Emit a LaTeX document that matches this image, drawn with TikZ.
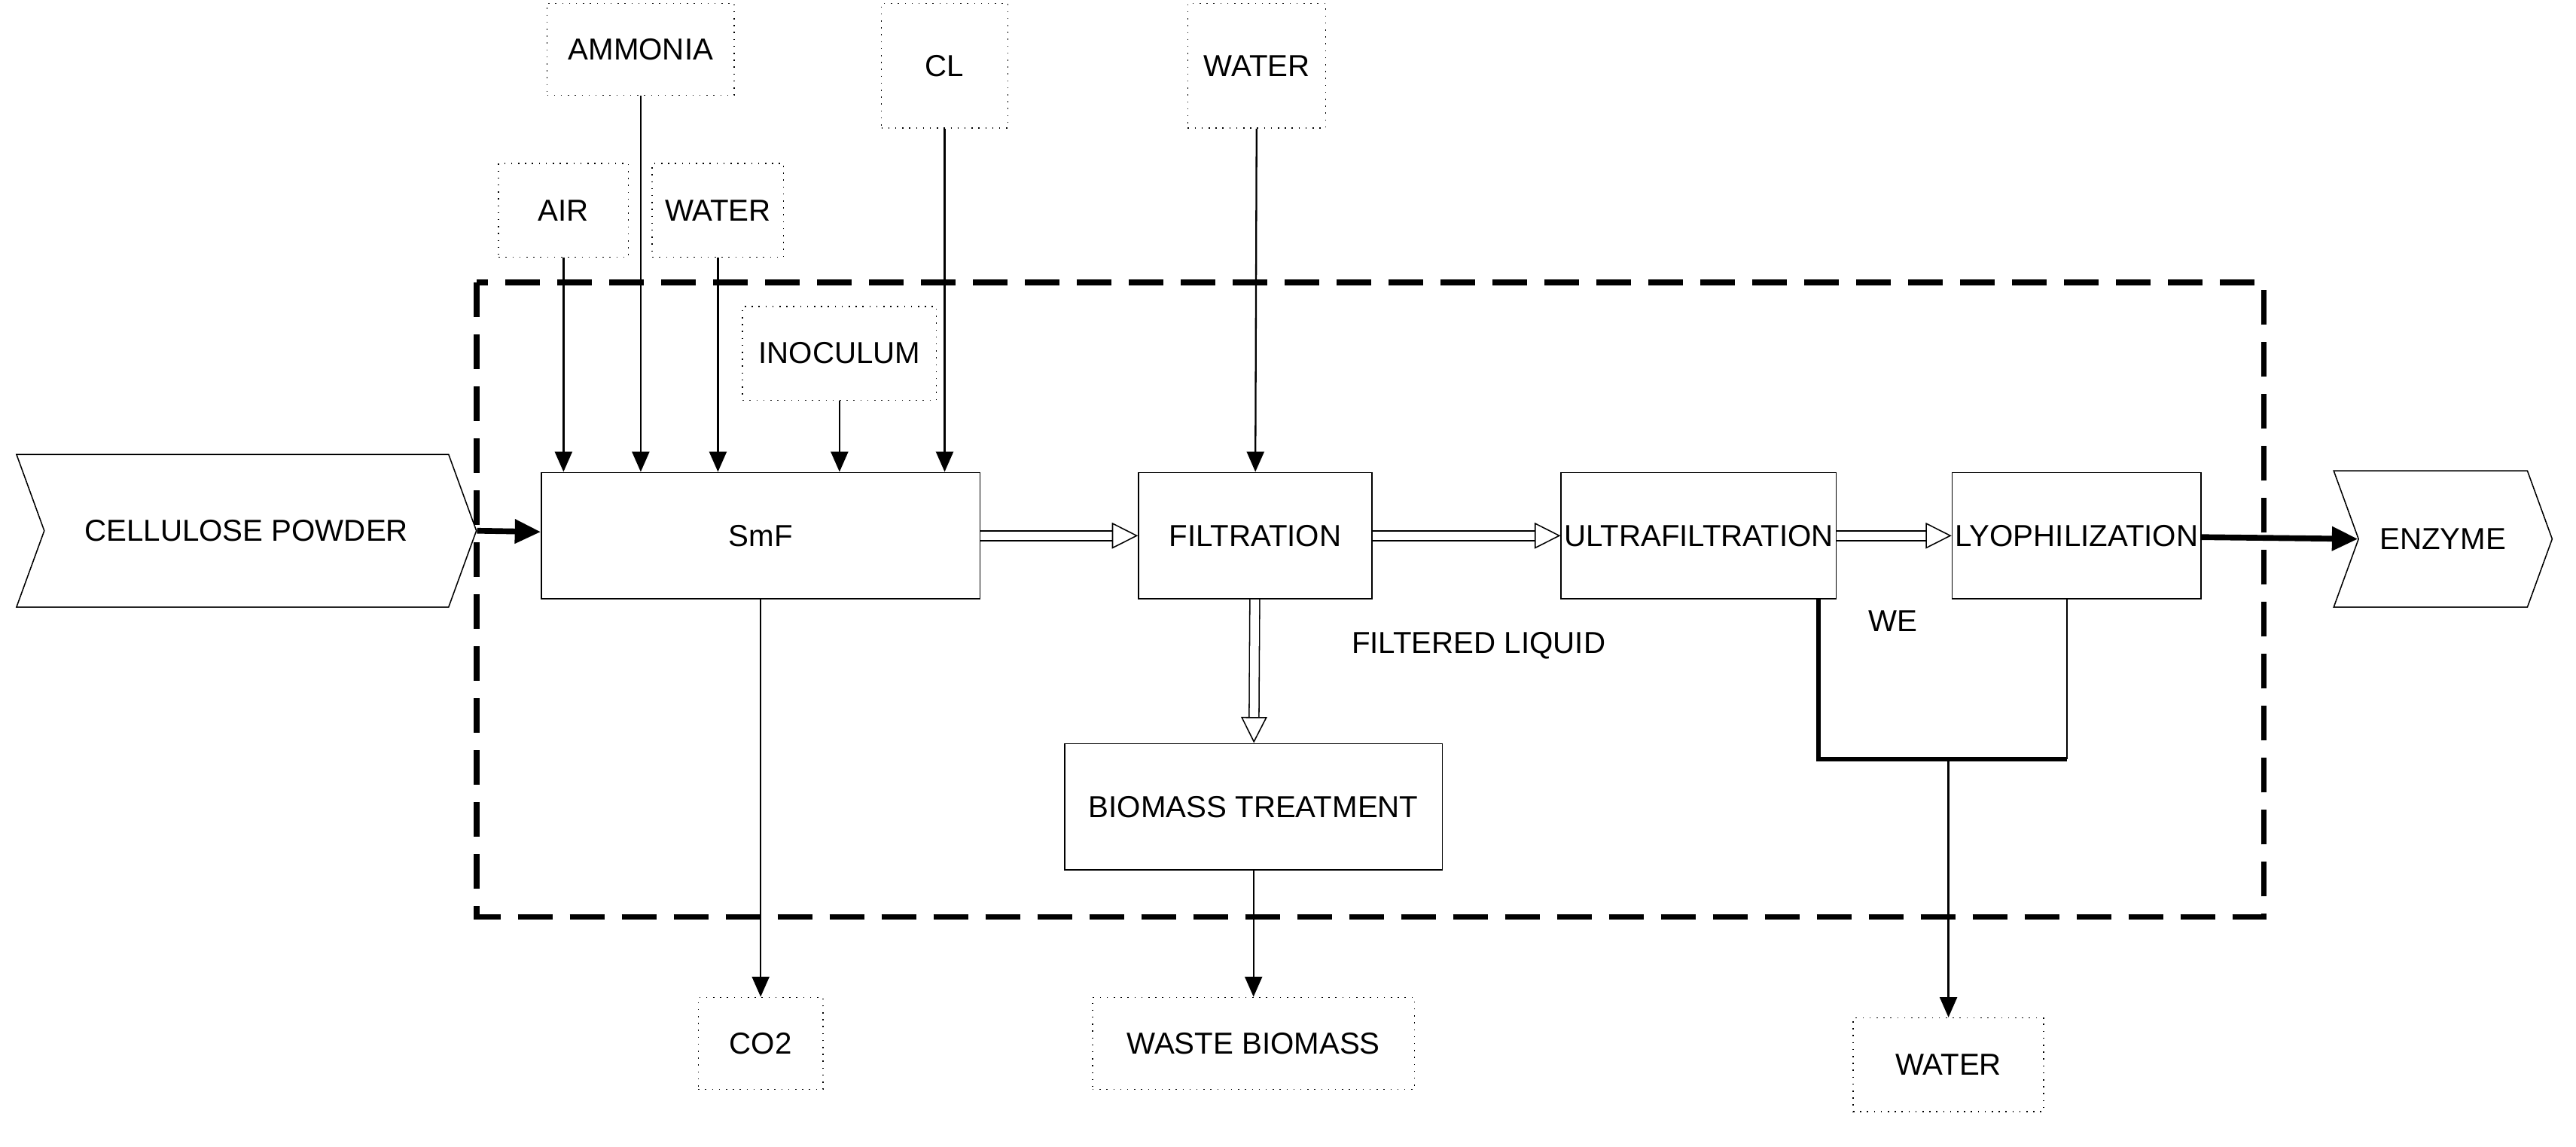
\documentclass[tikz,border=0pt]{standalone}
\usepackage{fontspec}
\setmainfont{Liberation Sans}
\usetikzlibrary{arrows.meta,shapes.symbols}
\tikzset{
  unit/.style={draw,rectangle,inner sep=1pt,font=\fontsize{10.5}{12}\selectfont},
  stream/.style={draw,dotted,rectangle,inner sep=1pt,font=\fontsize{10.5}{12}\selectfont},
  flag/.style={draw,signal,signal from=west,signal to=east,signal pointer angle=140,
    inner sep=1pt,font=\fontsize{10.5}{12}\selectfont},
  feed/.style={semithick,-{Triangle[length=7pt,width=6pt]}},
  main/.style={line width=2pt,-{Triangle[length=9pt,width=8pt]}},
  duct/.style={double,double distance=3pt,-{Triangle[open,length=9pt,width=9pt]}}
}
\begin{document}
\begin{tikzpicture}[x=0.02cm,y=-0.02cm]
  \useasboundingbox (0,0) rectangle (1568,698);
  % battery limit
  \draw[line width=2pt,dash pattern=on 12pt off 6pt] (290,172) rectangle (1378,558);

  % process units
  \node[unit,minimum width=5.34cm,minimum height=1.54cm] (SmF)   at (463,326) {SmF};
  \node[unit,minimum width=2.84cm,minimum height=1.54cm] (Filt)  at (764,326) {FILTRATION};
  \node[unit,minimum width=3.30cm,minimum height=1.54cm] (Ultra) at (1034,326) {ULTRAFILTRATION};
  \node[unit,minimum width=3.02cm,minimum height=1.54cm] (Lyo)   at (1264,326) {LYOPHILIZATION};
  \node[unit,minimum width=4.60cm,minimum height=1.54cm] (Bio)   at (763,491) {BIOMASS TREATMENT};

  % in and out
  \node[flag,minimum width=5.6cm,minimum height=1.86cm] (Cell) at (150,323) {CELLULOSE POWDER};
  \node[flag,minimum width=2.66cm,minimum height=1.66cm] (Enz) at (1487,328) {ENZYME};

  % streams
  \node[stream,minimum width=2.28cm,minimum height=1.12cm] (Amm)   at (390,30)  {AMMONIA};
  \node[stream,minimum width=1.54cm,minimum height=1.52cm] (CL)    at (575,40)  {CL};
  \node[stream,minimum width=1.68cm,minimum height=1.52cm] (WatT)  at (765,40)  {WATER};
  \node[stream,minimum width=1.58cm,minimum height=1.14cm] (Air)   at (343,128) {AIR};
  \node[stream,minimum width=1.60cm,minimum height=1.14cm] (WatL)  at (437,128) {WATER};
  \node[stream,minimum width=2.36cm,minimum height=1.14cm] (Inoc)  at (511,215) {INOCULUM};
  \node[stream,minimum width=1.52cm,minimum height=1.12cm] (CO)    at (463,635) {CO2};
  \node[stream,minimum width=3.92cm,minimum height=1.12cm] (Waste) at (763,635) {WASTE BIOMASS};
  \node[stream,minimum width=2.32cm,minimum height=1.14cm] (WatB)  at (1186,648) {WATER};

  \coordinate (j1) at (1107,462);
  \coordinate (j2) at (1258,462);
  \coordinate (j3) at (1186,462);

  \draw[feed] (Air)  -- (Air |- SmF.north);
  \draw[feed] (Amm)  -- (Amm |- SmF.north);
  \draw[feed] (WatL) -- (WatL |- SmF.north);
  \draw[feed] (Inoc) -- (Inoc |- SmF.north);
  \draw[feed] (CL)   -- (CL |- SmF.north);
  \draw[feed] (WatT) -- (Filt);
  \draw[feed] (SmF)  -- (CO);
  \draw[feed] (Bio)  -- (Waste);
  \draw[main] (Cell.east) -- (SmF);
  \draw[main] (Lyo)  -- (Enz.west);
  \draw[duct] (SmF)  -- (Filt);
  \draw[duct] (Filt) -- (Ultra);
  \draw[duct] (Ultra) -- (Lyo);
  \draw[duct] (Filt) -- (Bio);
  \draw[line width=1.5pt] (Ultra.south -| j1) -- (j1) -- (j2);
  \draw[semithick] (j2) -- (Lyo.south -| j2);
  \draw[feed] (j3) -- (WatB);

  \node[font=\fontsize{10.5}{12}\selectfont] (FL) at (900,393) {FILTERED LIQUID};
  \node[font=\fontsize{10.5}{12}\selectfont] (WE) at (1152,378) {WE};
\end{tikzpicture}
\end{document}
